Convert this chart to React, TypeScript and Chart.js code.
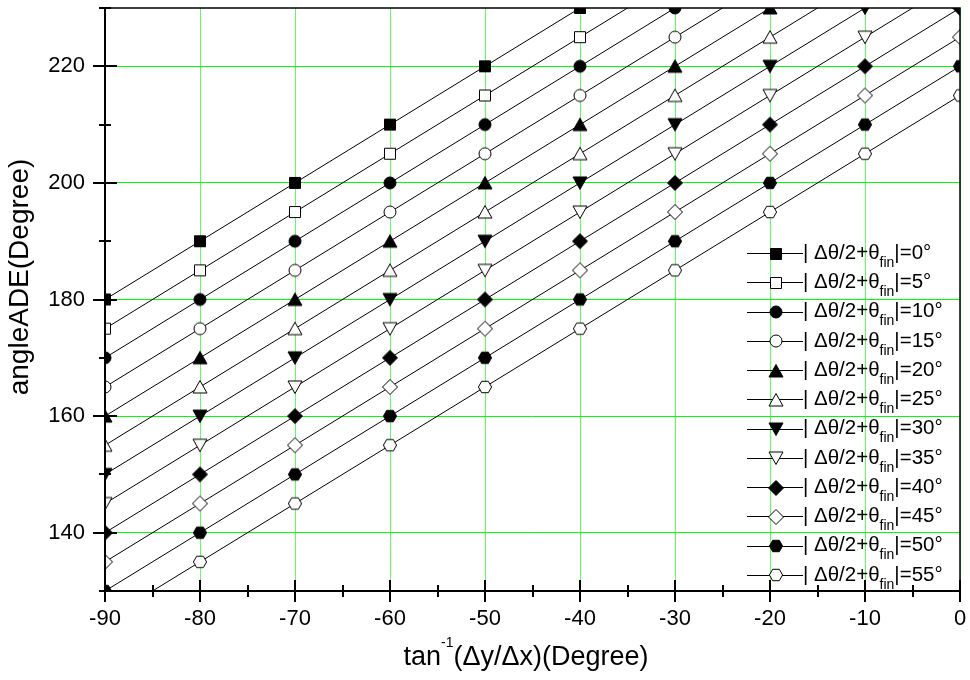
import React, { useEffect, useRef } from 'react';
import { Chart, registerables } from 'chart.js';

Chart.register(...registerables);

// ---- data ----
const X_VALUES = [-90, -80, -70, -60, -50, -40, -30, -20, -10, 0];
const LEGEND_ANGLES = [0, 5, 10, 15, 20, 25, 30, 35, 40, 45, 50, 55];

const S0 = [180, 190, 200, 210, 220, 230, 240, 250, 260, 270];
const S5 = [175, 185, 195, 205, 215, 225, 235, 245, 255, 265];
const S10 = [170, 180, 190, 200, 210, 220, 230, 240, 250, 260];
const S15 = [165, 175, 185, 195, 205, 215, 225, 235, 245, 255];
const S20 = [160, 170, 180, 190, 200, 210, 220, 230, 240, 250];
const S25 = [155, 165, 175, 185, 195, 205, 215, 225, 235, 245];
const S30 = [150, 160, 170, 180, 190, 200, 210, 220, 230, 240];
const S35 = [145, 155, 165, 175, 185, 195, 205, 215, 225, 235];
const S40 = [140, 150, 160, 170, 180, 190, 200, 210, 220, 230];
const S45 = [135, 145, 155, 165, 175, 185, 195, 205, 215, 225];
const S50 = [130, 140, 150, 160, 170, 180, 190, 200, 210, 220];
const S55 = [125, 135, 145, 155, 165, 175, 185, 195, 205, 215];
const SERIES = [S0, S5, S10, S15, S20, S25, S30, S35, S40, S45, S50, S55];

const X_TICKS = [-90, -80, -70, -60, -50, -40, -30, -20, -10, 0];
const X_MINOR = [-85, -75, -65, -55, -45, -35, -25, -15, -5];
const Y_TICKS = [140, 160, 180, 200, 220];
const Y_MINOR = [130, 150, 170, 190, 210, 230];

const MARKER_SHAPES: [string, boolean][] = [
  ['square', true], ['square', false],
  ['circle', true], ['circle', false],
  ['triUp', true], ['triUp', false],
  ['triDown', true], ['triDown', false],
  ['diamond', true], ['diamond', false],
  ['hexagon', true], ['hexagon', false],
];

const FONT = "'Liberation Sans', Arial, Helvetica, sans-serif";

function makeMarker(shape: string, filled: boolean): HTMLCanvasElement {
  const size = 18;
  const c = document.createElement('canvas');
  c.width = size;
  c.height = size;
  const ctx = c.getContext('2d')!;
  const cx = size / 2;
  const cy = size / 2;
  ctx.beginPath();
  if (shape === 'square') {
    ctx.rect(cx - 5.5, cy - 5.5, 11, 11);
  } else if (shape === 'circle') {
    ctx.arc(cx, cy, 6, 0, Math.PI * 2);
  } else if (shape === 'triUp') {
    ctx.moveTo(cx, cy - 6.5);
    ctx.lineTo(cx + 7, cy + 6);
    ctx.lineTo(cx - 7, cy + 6);
    ctx.closePath();
  } else if (shape === 'triDown') {
    ctx.moveTo(cx, cy + 6.5);
    ctx.lineTo(cx + 7, cy - 6);
    ctx.lineTo(cx - 7, cy - 6);
    ctx.closePath();
  } else if (shape === 'diamond') {
    ctx.moveTo(cx, cy - 7.5);
    ctx.lineTo(cx + 7.5, cy);
    ctx.lineTo(cx, cy + 7.5);
    ctx.lineTo(cx - 7.5, cy);
    ctx.closePath();
  } else if (shape === 'hexagon') {
    const r = 6.6;
    for (let k = 0; k < 6; k++) {
      const ang = (Math.PI / 3) * k;
      const px = cx + r * Math.cos(ang);
      const py = cy + r * Math.sin(ang);
      if (k === 0) ctx.moveTo(px, py);
      else ctx.lineTo(px, py);
    }
    ctx.closePath();
  }
  ctx.fillStyle = filled ? '#000000' : '#ffffff';
  ctx.fill();
  ctx.lineWidth = 1;
  ctx.strokeStyle = '#000000';
  ctx.stroke();
  return c;
}

export default function App() {
  const ref = useRef<HTMLCanvasElement>(null);

  useEffect(() => {
    const canvas = ref.current;
    if (!canvas) return;
    const markers = MARKER_SHAPES.map(([s, f]) => makeMarker(s, f));

    const decor = {
      id: 'decor',
      afterDatasetsDraw(chart: any) {
        const ctx = chart.ctx as CanvasRenderingContext2D;
        const a = chart.chartArea;
        const xs = chart.scales.x;
        const ys = chart.scales.y;
        ctx.save();
        ctx.strokeStyle = '#000000';
        // ticks
        ctx.lineWidth = 2;
        ctx.beginPath();
        for (const v of X_TICKS) {
          const px = Math.round(xs.getPixelForValue(v));
          ctx.moveTo(px, a.bottom - 11);
          ctx.lineTo(px, a.bottom + 11);
        }
        for (const v of X_MINOR) {
          const px = Math.round(xs.getPixelForValue(v));
          ctx.moveTo(px, a.bottom - 6);
          ctx.lineTo(px, a.bottom + 6);
        }
        for (const v of Y_TICKS) {
          const py = Math.round(ys.getPixelForValue(v));
          ctx.moveTo(a.left - 12, py);
          ctx.lineTo(a.left + 12, py);
        }
        for (const v of Y_MINOR) {
          const py = Math.round(ys.getPixelForValue(v));
          ctx.moveTo(a.left - 6, py);
          ctx.lineTo(a.left + 6, py);
        }
        ctx.stroke();
        // frame
        ctx.lineWidth = 2;
        ctx.beginPath();
        ctx.moveTo(a.left, a.top);
        ctx.lineTo(a.left, a.bottom);
        ctx.moveTo(a.left - 1, a.bottom);
        ctx.lineTo(a.right, a.bottom);
        ctx.stroke();
        ctx.lineWidth = 1.5;
        ctx.beginPath();
        ctx.moveTo(a.left - 1, a.top);
        ctx.lineTo(a.right, a.top);
        ctx.lineTo(a.right, a.bottom);
        ctx.stroke();
        ctx.restore();
      },
      afterDraw(chart: any) {
        const ctx = chart.ctx as CanvasRenderingContext2D;
        ctx.save();
        ctx.fillStyle = '#000000';
        ctx.textBaseline = 'alphabetic';
        ctx.textAlign = 'left';

        // legend
        const rowY0 = 253;
        const rowDy = 29.25;
        for (let i = 0; i < LEGEND_ANGLES.length; i++) {
          const y = rowY0 + i * rowDy;
          ctx.strokeStyle = '#000000';
          ctx.lineWidth = 1;
          ctx.beginPath();
          ctx.moveTo(747, Math.round(y) + 0.5);
          ctx.lineTo(803, Math.round(y) + 0.5);
          ctx.stroke();
          const m = markers[i];
          ctx.drawImage(m, Math.round(775.5 - m.width / 2), Math.round(y + 0.5 - m.height / 2));
          let tx = 803;
          const base = y + 5.8;
          ctx.font = `20.5px ${FONT}`;
          const main = '| \u0394\u03b8/2+\u03b8';
          ctx.fillText(main, tx, base);
          tx += ctx.measureText(main).width;
          ctx.font = `14px ${FONT}`;
          ctx.fillText('fin', tx, base + 8);
          tx += ctx.measureText('fin').width;
          ctx.font = `20.5px ${FONT}`;
          ctx.fillText('|=' + LEGEND_ANGLES[i] + '\u00b0', tx, base);
        }

        // x axis title
        const p1 = 'tan';
        const p2 = '-1';
        const p3 = '(\u0394y/\u0394x)(Degree)';
        ctx.font = `27px ${FONT}`;
        const w1 = ctx.measureText(p1).width;
        const w3 = ctx.measureText(p3).width;
        ctx.font = `14px ${FONT}`;
        const w2 = ctx.measureText(p2).width;
        let x0 = 526 - (w1 + w2 + w3) / 2;
        const xb = 665;
        ctx.font = `27px ${FONT}`;
        ctx.fillText(p1, x0, xb);
        x0 += w1;
        ctx.font = `14px ${FONT}`;
        ctx.fillText(p2, x0, xb - 18);
        x0 += w2;
        ctx.font = `27px ${FONT}`;
        ctx.fillText(p3, x0, xb);

        // y axis title
        ctx.translate(28, 277);
        ctx.rotate(-Math.PI / 2);
        ctx.textAlign = 'center';
        ctx.font = `28px ${FONT}`;
        ctx.fillText('angleADE(Degree)', 0, 0);
        ctx.restore();
      },
    };

    const chart = new Chart(canvas, {
      type: 'line',
      data: {
        datasets: SERIES.map((vals, i) => ({
          label: String(LEGEND_ANGLES[i]),
          data: X_VALUES.map((x, j) => ({ x, y: vals[j] })),
          borderColor: '#000000',
          borderWidth: 1,
          backgroundColor: '#000000',
          pointStyle: markers[i] as any,
          pointRadius: 7,
          pointHoverRadius: 7,
          tension: 0,
          fill: false,
          clip: 0 as any,
        })),
      },
      options: {
        animation: false,
        responsive: false,
        devicePixelRatio: 1,
        events: [],
        layout: { padding: { left: 0, right: 10, top: 8, bottom: 0 } },
        plugins: { legend: { display: false }, tooltip: { enabled: false } },
        scales: {
          x: {
            type: 'linear',
            min: -90,
            max: 0,
            afterBuildTicks: (s: any) => {
              s.ticks = X_TICKS.map((v) => ({ value: v }));
            },
            afterFit: (s: any) => {
              s.height = 89;
              s.paddingLeft = 0;
              s.paddingRight = 0;
            },
            grid: { color: '#5cff5c', lineWidth: 1, drawTicks: false },
            border: { display: false },
            ticks: {
              color: '#000000',
              font: { family: FONT, size: 22 },
              padding: 15,
              maxRotation: 0,
              autoSkip: false,
              callback: (v: any) => String(v),
            },
          },
          y: {
            type: 'linear',
            min: 130,
            max: 230,
            afterBuildTicks: (s: any) => {
              s.ticks = Y_TICKS.map((v) => ({ value: v }));
            },
            afterFit: (s: any) => {
              s.width = 105;
              s.paddingTop = 0;
              s.paddingBottom = 0;
            },
            grid: { color: '#00ff00', lineWidth: 1, drawTicks: false },
            border: { display: false },
            ticks: {
              color: '#000000',
              font: { family: FONT, size: 22 },
              padding: 20,
              autoSkip: false,
              callback: (v: any) => String(v),
            },
          },
        },
      },
      plugins: [decor],
    });

    return () => chart.destroy();
  }, []);

  return (
    <canvas
      ref={ref}
      width={970}
      height={680}
      style={{ position: 'fixed', left: 0, top: 0, display: 'block' }}
    />
  );
}
